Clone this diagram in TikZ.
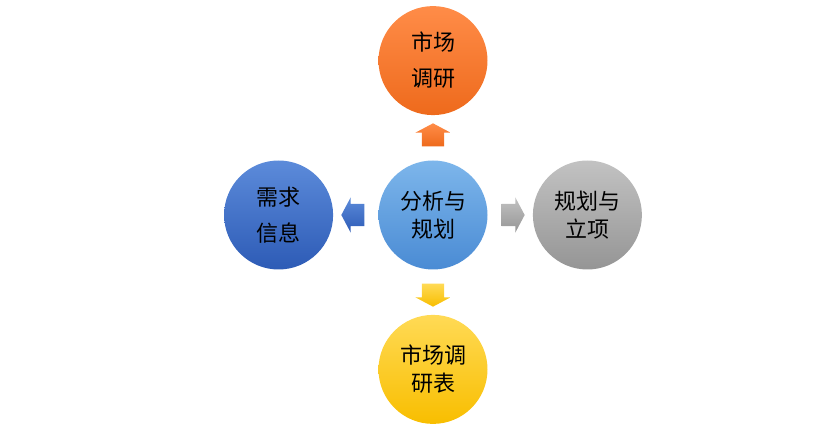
\documentclass[tikz,border=0pt]{standalone}
\usepackage{fontspec}
\newfontfamily\cjk{Noto Sans CJK SC}
\usepackage{tikz}
\usetikzlibrary{positioning,shapes.arrows,calc}
\definecolor{mktorange}{HTML}{FF8C48}
\definecolor{mktorangedk}{HTML}{EE6A1C}
\definecolor{anablue}{HTML}{7DB6EB}
\definecolor{anabluedk}{HTML}{4A8BD4}
\definecolor{reqblue}{HTML}{5C8BDA}
\definecolor{reqbluedk}{HTML}{2D5BB6}
\definecolor{plangray}{HTML}{C2C2C2}
\definecolor{plangraydk}{HTML}{959595}
\definecolor{tblyellow}{HTML}{FFDA55}
\definecolor{tblyellowdk}{HTML}{F8BE00}
\tikzset{
  ball/.style={circle,minimum size=109pt,inner sep=0pt,align=center,text=black,font=\cjk\fontsize{22}{28}\selectfont},
  wideball/.style={ball,font=\cjk\fontsize{22}{36}\selectfont},
  blk/.style={single arrow,minimum height=23pt,inner xsep=0pt,inner ysep=11pt,single arrow head extend=6.5pt,single arrow tip angle=124},
  blkv/.style={blk,inner xsep=11pt,inner ysep=0pt},
}
\begin{document}
\begin{tikzpicture}[x=1pt,y=1pt,node distance=45pt]
  \useasboundingbox (0,0) rectangle (815,431);
  \node[ball,top color=anablue,bottom color=anabluedk] (ana) at (433,216) {分析与\\规划};
  \node[wideball,top color=mktorange,bottom color=mktorangedk,above=of ana] (mkt) {市场\\调研};
  \node[wideball,top color=reqblue,bottom color=reqbluedk,left=of ana] (req) {需求\\信息};
  \node[ball,top color=plangray,bottom color=plangraydk,right=of ana] (plan) {规划与\\立项};
  \node[ball,top color=tblyellow,bottom color=tblyellowdk,below=of ana] (tbl) {市场调\\研表};
  % block arrows between the circles
  \node[blkv,shape border rotate=90,top color=mktorange,bottom color=mktorangedk] (aup) at ($(ana)!0.5!(mkt)$) {};
  \node[blk,shape border rotate=180,top color=reqblue,bottom color=reqbluedk] (aleft) at ($(ana)!0.5!(req)$) {};
  \node[blk,shape border rotate=0,top color=plangray,bottom color=plangraydk] (aright) at ($(ana)!0.5!(plan)$) {};
  \node[blkv,shape border rotate=270,top color=tblyellow,bottom color=tblyellowdk] (adown) at ($(ana)!0.5!(tbl)$) {};
\end{tikzpicture}
\end{document}
